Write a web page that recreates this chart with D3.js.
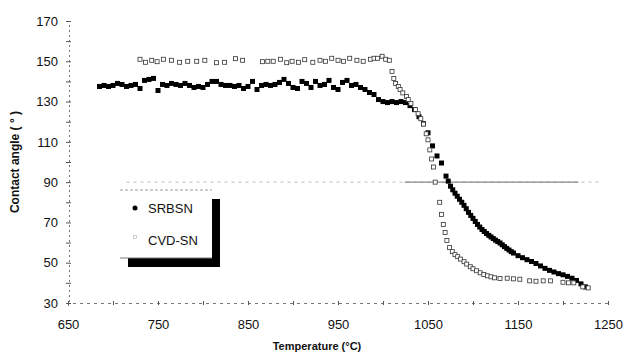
<!DOCTYPE html>
<html>
<head>
<meta charset="utf-8">
<script src="https://cdn.jsdelivr.net/npm/d3@7"></script>
<style>
  html, body { margin: 0; padding: 0; background: #fff; }
  svg { display: block; font-family: "Liberation Sans", Arial, Helvetica, sans-serif; }
</style>
</head>
<body>
<svg id="chart" width="624" height="354"></svg>
<script>
// Contact angle vs temperature for two silicon nitride samples (scanned figure)

const xTicks = [650, 750, 850, 950, 1050, 1150, 1250];
const yTicks = [30, 50, 70, 90, 110, 130, 150, 170];
const seriesNames = ['SRBSN', 'CVD-SN'];

// SRBSN: filled squares
const srbsnTemp = [685, 690, 695, 700, 705, 710, 715, 720, 725, 730, 735, 740, 745, 750, 755, 760,
  765, 770, 775, 780, 785, 790, 795, 800, 805, 810, 815, 820, 825, 830, 835, 840, 845, 850, 855, 860,
  865, 870, 875, 880, 885, 890, 895, 900, 905, 910, 915, 920, 925, 930, 935, 940, 945, 950, 955, 960,
  965, 970, 975, 980, 985, 990, 995, 1000, 1005, 1010, 1015, 1020, 1025, 1030, 1035, 1040, 1045, 1050,
  1055, 1060, 1065, 1070, 1072.5, 1075, 1077.5, 1080, 1082.5, 1085, 1087.5, 1090, 1092.5, 1095, 1097.5,
  1100, 1102.5, 1105, 1107.5, 1110, 1112.5, 1115, 1117.5, 1120, 1122.5, 1125, 1127.5, 1130, 1132.5,
  1135, 1137.5, 1140, 1142.5, 1145, 1150, 1155, 1160, 1165, 1170, 1175, 1180, 1185, 1190, 1195, 1200,
  1205, 1210, 1215, 1220, 1225];
const srbsnAngle = [137.5, 138, 137.5, 138, 139, 138.5, 137.5, 138, 138.5, 136.5, 140.5, 141, 141.5, 135.5, 138.5, 138,
  139, 138.5, 138, 139, 138, 137, 137.5, 137, 138.5, 140, 140, 138.5, 138, 138, 137.5, 138, 136.5, 137.5, 140, 136,
  138, 138.5, 138, 138.5, 139.5, 141, 139, 137, 136.5, 140, 139, 137, 140, 138, 138.5, 140.5, 137, 136, 139.5, 140.5,
  138, 138.5, 137, 136, 134.5, 133.5, 131, 130, 129.5, 130, 129.5, 130, 129.5, 128, 126, 122.5, 119, 114.5,
  108, 103, 99.5, 93, 90.5, 88, 86.2, 84.5, 83, 81.5, 80, 78.5, 76.8, 75, 73.5,
  72, 70.5, 69, 67.7, 66.5, 65.5, 64.5, 63.6, 62.8, 62, 61.2, 60.5, 59.8, 58.9,
  58, 57.1, 56.3, 55.5, 54.8, 53.5, 52.5, 51.5, 50.6, 49.6, 48.4, 47.2, 46.2, 45.4, 44.6, 44,
  43.2, 42.3, 41.2, 39.5, 38];

// CVD-SN: open squares
const cvdTemp = [730, 736, 743, 749, 756, 765, 774, 783, 793, 802, 815, 824, 836, 844, 866, 872,
  878, 886, 893, 899, 906, 913, 922, 930, 936, 943, 950, 956, 963, 971, 978, 986, 990, 994, 999, 1003,
  1007, 1010, 1012, 1014, 1017, 1019, 1022, 1026, 1028, 1031, 1036, 1039, 1042, 1045, 1048, 1050, 1052,
  1054, 1056, 1058, 1063, 1065, 1067, 1069, 1071, 1074, 1077, 1080, 1083, 1086, 1090, 1093, 1097, 1100,
  1104, 1108, 1112, 1116, 1120, 1124, 1130, 1138, 1145, 1152, 1163, 1170, 1178, 1186, 1200, 1206, 1212,
  1222, 1228];
const cvdAngle = [151, 149.5, 150.5, 149.8, 151, 150.5, 149.5, 150, 150, 150.5, 149.3, 149.5, 151.3, 150.5, 149.8, 150,
  150, 151, 149.3, 150, 149.5, 150.8, 149.5, 150.5, 150, 151.5, 150.5, 150, 151.5, 150.5, 150, 151, 151.5, 151.5, 152.5, 151,
  150.5, 145, 141.5, 139, 137.5, 136, 134.3, 132.5, 131, 129, 126, 124, 121.5, 118.8, 114, 111, 106,
  101.5, 97.5, 90, 80, 74, 69, 65, 61, 57.5, 55.5, 54, 53, 51.8, 50.5, 49.3, 48, 47,
  46, 45, 44.2, 43.5, 43, 42.5, 42.2, 42.3, 42, 41.8, 41, 40.8, 41, 41, 40.3, 40, 40,
  38, 37.5];

const svg = d3.select('#chart');

const x = d3.scaleLinear().domain([650, 1250]).range([68, 608]);
const y = d3.scaleLinear().domain([30, 170]).range([303, 21]);

// Reference line at 90 degrees (faint on the left, solid gray on the right)
svg.append('line')
  .attr('x1', x(715)).attr('x2', x(1240))
  .attr('y1', y(90)).attr('y2', y(90))
  .attr('stroke', '#aaa').attr('stroke-width', 0.8)
  .attr('stroke-dasharray', '3,4');
svg.append('line')
  .attr('x1', x(1024)).attr('x2', x(1217))
  .attr('y1', y(90)).attr('y2', y(90))
  .attr('stroke', '#888').attr('stroke-width', 1.2);

// Y axis: faint dotted line with ticks every 10
const yAxis = d3.axisLeft(y)
  .tickValues(d3.range(30, 171, 10))
  .tickSize(3)
  .tickFormat(d => yTicks.includes(d) ? d : '');
const gy = svg.append('g').attr('transform', `translate(${x(650) + 1},0)`).call(yAxis);
gy.select('.domain').attr('stroke', '#777').attr('stroke-dasharray', '2,3');
gy.selectAll('.tick line').attr('stroke', '#555').attr('x2', 2).attr('x1', -3);
gy.selectAll('.tick text')
  .attr('x', -11)
  .attr('font-size', 13)
  .attr('fill', '#111');

// X axis
const xAxis = d3.axisBottom(x)
  .tickValues(d3.range(650, 1251, 50))
  .tickSize(3)
  .tickFormat(d => xTicks.includes(d) ? d : '');
const gx = svg.append('g').attr('transform', `translate(0,${y(30)})`).call(xAxis);
gx.select('.domain').attr('stroke', '#777').attr('stroke-dasharray', '3,4');
gx.selectAll('.tick line').attr('stroke', '#555').attr('y1', -2).attr('y2', 2);
gx.selectAll('.tick text')
  .attr('y', 17)
  .attr('font-size', 13)
  .attr('fill', '#111');

// Axis titles
svg.append('text')
  .attr('transform', `translate(19,${y(100)}) rotate(-90)`)
  .attr('text-anchor', 'middle')
  .attr('font-size', 12)
  .attr('font-weight', 'bold')
  .attr('fill', '#111')
  .text('Contact angle ( ° )');
svg.append('text')
  .attr('x', 317).attr('y', 350)
  .attr('text-anchor', 'middle')
  .attr('font-size', 11)
  .attr('font-weight', 'bold')
  .attr('fill', '#111')
  .text('Temperature (°C)');

// Data
const srbsn = srbsnTemp.map((t, i) => ({ t, v: srbsnAngle[i] }));
const cvd = cvdTemp.map((t, i) => ({ t, v: cvdAngle[i] }));

const ms = 5;
svg.append('g').selectAll('rect')
  .data(srbsn)
  .join('rect')
  .attr('x', d => x(d.t) - ms / 2)
  .attr('y', d => y(d.v) - ms / 2)
  .attr('width', ms).attr('height', ms)
  .attr('fill', '#000');

svg.append('g').selectAll('rect')
  .data(cvd)
  .join('rect')
  .attr('x', d => x(d.t) - 2)
  .attr('y', d => y(d.v) - 2)
  .attr('width', 4).attr('height', 4)
  .attr('fill', '#fff')
  .attr('stroke', '#333')
  .attr('stroke-width', 0.8);

// Legend with heavy drop shadow
const legend = svg.append('g').attr('transform', 'translate(120,190)');
legend.append('rect')
  .attr('x', 8).attr('y', 9).attr('width', 92).attr('height', 68)
  .attr('fill', '#000');
legend.append('rect')
  .attr('x', 0).attr('y', 0).attr('width', 92).attr('height', 68)
  .attr('fill', '#fff');
legend.append('line')
  .attr('x1', 0).attr('x2', 92).attr('y1', 0).attr('y2', 0)
  .attr('stroke', '#999').attr('stroke-dasharray', '3,2');
legend.append('line')
  .attr('x1', 0).attr('x2', 92).attr('y1', 68).attr('y2', 68)
  .attr('stroke', '#777');

legend.append('circle')
  .attr('cx', 15).attr('cy', 18).attr('r', 2.5)
  .attr('fill', '#000');
legend.append('rect')
  .attr('x', 13.5).attr('y', 45.5).attr('width', 3).attr('height', 3)
  .attr('fill', 'none').attr('stroke', '#bbb').attr('stroke-width', 0.7);

legend.selectAll('text.lab')
  .data(seriesNames)
  .join('text')
  .attr('class', 'lab')
  .attr('x', 28)
  .attr('y', (d, i) => 23 + i * 32)
  .attr('font-size', 13)
  .attr('fill', '#111')
  .text(d => d);
</script>
</body>
</html>
